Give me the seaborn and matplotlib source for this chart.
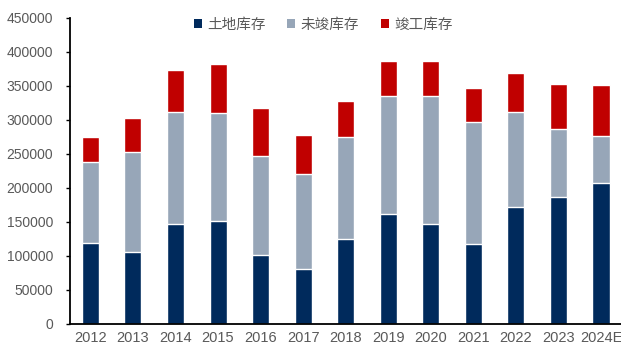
import matplotlib
matplotlib.use("Agg")
import matplotlib.pyplot as plt
from matplotlib.patches import Patch
import numpy as np
import pandas as pd
import seaborn as sns

years = ["2012", "2013", "2014", "2015", "2016", "2017", "2018",
         "2019", "2020", "2021", "2022", "2023", "2024E"]
land_stock = [119000, 105000, 146000, 151000, 101000, 81000, 124000,
              161000, 146000, 117000, 171000, 187000, 207000]
unsold_stock = [119000, 147000, 165000, 159000, 146000, 139000, 151000,
                174000, 189000, 179000, 140000, 99000, 69000]
completed_stock = [37000, 50000, 62000, 72000, 70000, 58000, 53000,
                   51000, 51000, 51000, 57000, 67000, 75000]
series_names = ["土地库存", "未竣库存", "竣工库存"]
y_ticks = list(range(0, 450001, 50000))

C_LAND = "#002a5c"
C_UNSOLD = "#97a6b8"
C_DONE = "#c00000"
C_TEXT = "#595959"

sns.set_theme(style="white")
plt.rcParams["font.family"] = ["Liberation Sans", "DejaVu Sans"]

df = pd.DataFrame({
    "year": years,
    "land": land_stock,
    "unsold": unsold_stock,
    "done": completed_stock,
})
df["land_unsold"] = df["land"] + df["unsold"]
df["total"] = df["land_unsold"] + df["done"]

fig = plt.figure(figsize=(6.21, 3.47), dpi=100)
ax = fig.add_axes([0.112, 0.067, 0.888, 0.882])

# stacked bars: draw cumulative heights back to front
sns.barplot(data=df, x="year", y="total", color=C_DONE, width=0.4,
            saturation=1, ax=ax)
sns.barplot(data=df, x="year", y="land_unsold", color=C_UNSOLD, width=0.4,
            saturation=1, ax=ax)
sns.barplot(data=df, x="year", y="land", color=C_LAND, width=0.4,
            saturation=1, ax=ax)

ax.set_ylim(0, 450000)
ax.set_xlim(-0.49, len(years) - 0.53)
ax.set_yticks(y_ticks)
ax.set_yticklabels([str(v) for v in y_ticks])
ax.set_xlabel("")
ax.set_ylabel("")

for side in ("top", "right"):
    ax.spines[side].set_visible(False)
for side in ("left", "bottom"):
    ax.spines[side].set_color("#000000")
    ax.spines[side].set_linewidth(1.3)

ax.tick_params(axis="y", which="major", left=True, length=3, width=1,
               color="#000000", direction="out", labelsize=10,
               labelcolor=C_TEXT, pad=9)
ax.tick_params(axis="x", bottom=False, length=0, labelsize=10.5,
               labelcolor=C_TEXT, pad=5)

handles = [Patch(facecolor=c, edgecolor="none")
           for c in (C_LAND, C_UNSOLD, C_DONE)]
leg = ax.legend(handles, series_names, loc="upper center", ncol=3,
                bbox_to_anchor=(0.46, 1.043), frameon=False,
                handlelength=0.55, handleheight=0.55, handletextpad=0.35,
                columnspacing=1.5,
                prop={"family": ["Noto Sans CJK SC", "DejaVu Sans"],
                      "size": 10.5})
for t in leg.get_texts():
    t.set_color(C_TEXT)

fig.savefig("out.png", dpi=100)
